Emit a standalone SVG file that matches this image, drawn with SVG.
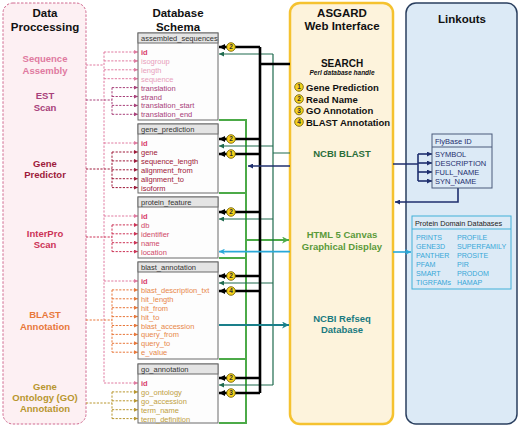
<svg xmlns="http://www.w3.org/2000/svg" width="520" height="427" viewBox="0 0 520 427">
<style>
text{font-family:"Liberation Sans",Arial,sans-serif}
.ttl{font-size:11.5px;font-weight:bold;fill:#111;text-anchor:middle}
.lbl{font-size:9.5px;font-weight:bold;text-anchor:middle}
.tbl rect.b{fill:#fdfdfd;stroke:#6a6a6a;stroke-width:1}
.tbl rect.h{fill:#e4e4e4;stroke:#6a6a6a;stroke-width:1}
.th{font-size:7.5px;fill:#333}
.f{font-size:7.5px}
.id{font-size:7.5px;font-weight:bold;fill:#d8406a}
.d{fill:none;stroke-width:1;stroke-dasharray:2.2,1.4}
.badge circle{fill:#f7d21e;stroke:#6b5a00;stroke-width:0.8}
.badge text{font-size:6.5px;font-weight:bold;fill:#333;text-anchor:middle}
.li{font-size:9.5px;font-weight:bold;fill:#111}
.lk{font-size:7.5px;fill:#1f2f6e}
.pd{font-size:7.1px;fill:#38a8d8}
</style>
<defs>
<marker id="mPink" viewBox="0 0 10 10" refX="10" refY="5" markerUnits="userSpaceOnUse" markerWidth="4" markerHeight="4" orient="auto"><path d="M0,0L10,5L0,10z" fill="#e07aa0"/></marker>
<marker id="mMauve" viewBox="0 0 10 10" refX="10" refY="5" markerUnits="userSpaceOnUse" markerWidth="4" markerHeight="4" orient="auto"><path d="M0,0L10,5L0,10z" fill="#a8407a"/></marker>
<marker id="mRed" viewBox="0 0 10 10" refX="10" refY="5" markerUnits="userSpaceOnUse" markerWidth="4" markerHeight="4" orient="auto"><path d="M0,0L10,5L0,10z" fill="#9e1a3a"/></marker>
<marker id="mCrim" viewBox="0 0 10 10" refX="10" refY="5" markerUnits="userSpaceOnUse" markerWidth="4" markerHeight="4" orient="auto"><path d="M0,0L10,5L0,10z" fill="#cc3356"/></marker>
<marker id="mOrange" viewBox="0 0 10 10" refX="10" refY="5" markerUnits="userSpaceOnUse" markerWidth="4" markerHeight="4" orient="auto"><path d="M0,0L10,5L0,10z" fill="#e8773a"/></marker>
<marker id="mOlive" viewBox="0 0 10 10" refX="10" refY="5" markerUnits="userSpaceOnUse" markerWidth="4" markerHeight="4" orient="auto"><path d="M0,0L10,5L0,10z" fill="#b8962e"/></marker>
<marker id="mBlack" viewBox="0 0 10 10" refX="10" refY="5" markerUnits="userSpaceOnUse" markerWidth="6" markerHeight="6" orient="auto"><path d="M0,0L10,5L0,10z" fill="#000"/></marker>
<marker id="mDG" viewBox="0 0 10 10" refX="10" refY="5" markerUnits="userSpaceOnUse" markerWidth="5" markerHeight="5" orient="auto"><path d="M0,0L10,5L0,10z" fill="#1f6b4f"/></marker>
<marker id="mLG" viewBox="0 0 10 10" refX="10" refY="5" markerUnits="userSpaceOnUse" markerWidth="7" markerHeight="7" orient="auto"><path d="M0,0L10,5L0,10L3,5z" fill="#4caa48"/></marker>
<marker id="mCyan" viewBox="0 0 10 10" refX="10" refY="5" markerUnits="userSpaceOnUse" markerWidth="6" markerHeight="6" orient="auto"><path d="M0,0L10,5L0,10L3,5z" fill="#29a8d8"/></marker>
<marker id="mTeal" viewBox="0 0 10 10" refX="10" refY="5" markerUnits="userSpaceOnUse" markerWidth="7" markerHeight="7" orient="auto"><path d="M0,0L10,5L0,10L3,5z" fill="#1a7f8a"/></marker>
<marker id="mNavy" viewBox="0 0 10 10" refX="10" refY="5" markerUnits="userSpaceOnUse" markerWidth="5" markerHeight="5" orient="auto"><path d="M0,0L10,5L0,10z" fill="#1f2f6e"/></marker>
</defs>

<!-- panels -->
<g id="data-processing">
<rect x="3" y="3" width="83" height="421" rx="10" fill="#fdf0f3" stroke="#d06a90" stroke-width="1" stroke-dasharray="2.5,1.5"/>
<text class="ttl" x="45" y="17">Data</text>
<text class="ttl" x="45" y="31">Proccessing</text>
</g>
<g id="proc-sequence-assembly"><text class="lbl" fill="#e07aa0"><tspan x="45" y="61.5">Sequence</tspan><tspan x="45" y="73.5">Assembly</tspan></text></g>
<g id="proc-est-scan"><text class="lbl" fill="#a8407a"><tspan x="45" y="99">EST</tspan><tspan x="45" y="111">Scan</tspan></text></g>
<g id="proc-gene-predictor"><text class="lbl" fill="#9e1a3a"><tspan x="45" y="167">Gene</tspan><tspan x="45" y="178">Predictor</tspan></text></g>
<g id="proc-interpro"><text class="lbl" fill="#cc3356"><tspan x="45" y="236.5">InterPro</tspan><tspan x="45" y="247.5">Scan</tspan></text></g>
<g id="proc-blast"><text class="lbl" fill="#e8773a"><tspan x="45" y="317.5">BLAST</tspan><tspan x="45" y="329.5">Annotation</tspan></text></g>
<g id="proc-go"><text class="lbl" fill="#b8962e"><tspan x="45" y="389.5">Gene</tspan><tspan x="45" y="400.5">Ontology (GO)</tspan><tspan x="45" y="411.5">Annotation</tspan></text></g>

<g id="schema-title"><text class="ttl" x="178" y="17">Database</text><text class="ttl" x="178" y="31">Schema</text></g>

<g id="asgard">
<rect x="290" y="3" width="103" height="421" rx="10" fill="#fdf3dc" stroke="#f5c230" stroke-width="2.5"/>
<text class="ttl" x="342" y="17">ASGARD</text>
<text class="ttl" x="342" y="30">Web Interface</text>
</g>

<g id="linkouts">
<rect x="406" y="3" width="111" height="421" rx="10" fill="#dceaf6" stroke="#2a3f5f" stroke-width="1.5"/>
<text class="ttl" x="462" y="23">Linkouts</text>
</g>

<!-- connectors -->
<g id="connectors">
<g class="d" stroke="#e07aa0">
<path d="M86,65H104M104,52V383"/>
<path d="M104,52H138" marker-end="url(#mPink)"/>
<path d="M104,60.9H138" marker-end="url(#mPink)"/>
<path d="M104,69.8H138" marker-end="url(#mPink)"/>
<path d="M104,78.7H138" marker-end="url(#mPink)"/>
<path d="M104,143H138" marker-end="url(#mPink)"/>
<path d="M104,216H138" marker-end="url(#mPink)"/>
<path d="M104,281H138" marker-end="url(#mPink)"/>
<path d="M104,383H138" marker-end="url(#mPink)"/>
</g>
<g class="d" stroke="#a8407a">
<path d="M86,100H112M112,87.6V114.3"/>
<path d="M112,87.6H138" marker-end="url(#mMauve)"/>
<path d="M112,96.5H138" marker-end="url(#mMauve)"/>
<path d="M112,105.4H138" marker-end="url(#mMauve)"/>
<path d="M112,114.3H138" marker-end="url(#mMauve)"/>
</g>
<g class="d" stroke="#9e1a3a">
<path d="M86,169H112M112,152V187.6"/>
<path d="M112,152H138" marker-end="url(#mRed)"/>
<path d="M112,160.9H138" marker-end="url(#mRed)"/>
<path d="M112,169.8H138" marker-end="url(#mRed)"/>
<path d="M112,178.7H138" marker-end="url(#mRed)"/>
<path d="M112,187.6H138" marker-end="url(#mRed)"/>
</g>
<g class="d" stroke="#cc3356">
<path d="M86,237H112M112,224.9V251.6"/>
<path d="M112,224.9H138" marker-end="url(#mCrim)"/>
<path d="M112,233.8H138" marker-end="url(#mCrim)"/>
<path d="M112,242.7H138" marker-end="url(#mCrim)"/>
<path d="M112,251.6H138" marker-end="url(#mCrim)"/>
</g>
<g class="d" stroke="#e8773a">
<path d="M86,320H112M112,289.9V352.2"/>
<path d="M112,289.9H138" marker-end="url(#mOrange)"/>
<path d="M112,298.8H138" marker-end="url(#mOrange)"/>
<path d="M112,307.7H138" marker-end="url(#mOrange)"/>
<path d="M112,316.6H138" marker-end="url(#mOrange)"/>
<path d="M112,325.5H138" marker-end="url(#mOrange)"/>
<path d="M112,334.4H138" marker-end="url(#mOrange)"/>
<path d="M112,343.3H138" marker-end="url(#mOrange)"/>
<path d="M112,352.2H138" marker-end="url(#mOrange)"/>
</g>
<g class="d" stroke="#b8962e">
<path d="M86,403H112M112,391.9V418.6"/>
<path d="M112,391.9H138" marker-end="url(#mOlive)"/>
<path d="M112,400.8H138" marker-end="url(#mOlive)"/>
<path d="M112,409.7H138" marker-end="url(#mOlive)"/>
<path d="M112,418.6H138" marker-end="url(#mOlive)"/>
</g>
<g fill="none" stroke="#4caa48" stroke-width="2">
<path d="M219,120H246V423H219"/>
<path d="M219,193H246M219,258H246M219,359H246"/>
<path d="M246,240H289" marker-end="url(#mLG)"/>
</g>
<g fill="none" stroke="#1f6b4f" stroke-width="1.2">
<path d="M290,153H273M273,54V385"/>
<path d="M273,54H219" marker-end="url(#mDG)"/>
<path d="M273,146H219" marker-end="url(#mDG)"/>
<path d="M273,219H219" marker-end="url(#mDG)"/>
<path d="M273,283H219" marker-end="url(#mDG)"/>
<path d="M273,385H219" marker-end="url(#mDG)"/>
</g>
<g fill="none" stroke="#000" stroke-width="2.6">
<path d="M290,64H260M260,47V393"/>
<path d="M260,47H219" marker-end="url(#mBlack)"/>
<path d="M260,139H219" marker-end="url(#mBlack)"/>
<path d="M260,154H219" marker-end="url(#mBlack)"/>
<path d="M260,212H219" marker-end="url(#mBlack)"/>
<path d="M260,276H219" marker-end="url(#mBlack)"/>
<path d="M260,291H219" marker-end="url(#mBlack)"/>
<path d="M260,378H219" marker-end="url(#mBlack)"/>
<path d="M260,393H219" marker-end="url(#mBlack)"/>
</g>
<g fill="none" stroke="#1f2f6e" stroke-width="1.6">
<path d="M290,166H248" marker-end="url(#mNavy)"/>
<path d="M393,164H418M418,154V181"/>
<path d="M418,154H432" marker-end="url(#mNavy)"/>
<path d="M418,163H432" marker-end="url(#mNavy)"/>
<path d="M418,172H432" marker-end="url(#mNavy)"/>
<path d="M418,181H432" marker-end="url(#mNavy)"/>
<path d="M458,188V202H395" marker-end="url(#mNavy)"/>
</g>
<g fill="none" stroke="#29a8d8" stroke-width="1.6">
<path d="M290,251.6H219" marker-end="url(#mCyan)"/>
<path d="M393,252H411" marker-end="url(#mCyan)"/>
</g>
<path d="M219,325H289" fill="none" stroke="#1a7f8a" stroke-width="1.8" marker-end="url(#mTeal)"/>
</g>

<!-- tables -->
<g id="assembled_sequences" class="tbl">
<rect class="b" x="138" y="33" width="80" height="87"/>
<rect class="h" x="138" y="33" width="80" height="10"/>
<text class="th" x="141" y="41">assembled_sequences</text>
<text class="id" x="141" y="55">id</text>
<text class="f" fill="#e8a0bc" x="141" y="63.9">isogroup</text>
<text class="f" fill="#e8a0bc" x="141" y="72.8">length</text>
<text class="f" fill="#e8a0bc" x="141" y="81.7">sequence</text>
<text class="f" fill="#a8407a" x="141" y="90.6">translation</text>
<text class="f" fill="#a8407a" x="141" y="99.5">strand</text>
<text class="f" fill="#a8407a" x="141" y="108.4">translation_start</text>
<text class="f" fill="#a8407a" x="141" y="117.3">translation_end</text>
</g>
<g id="gene_prediction" class="tbl">
<rect class="b" x="138" y="124" width="80" height="69"/>
<rect class="h" x="138" y="124" width="80" height="10"/>
<text class="th" x="141" y="132">gene_prediction</text>
<text class="id" x="141" y="146">id</text>
<text class="f" fill="#a01838" x="141" y="155">gene</text>
<text class="f" fill="#a01838" x="141" y="163.9">sequence_length</text>
<text class="f" fill="#a01838" x="141" y="172.8">alignment_from</text>
<text class="f" fill="#a01838" x="141" y="181.7">alignment_to</text>
<text class="f" fill="#a01838" x="141" y="190.6">isoform</text>
</g>
<g id="protein_feature" class="tbl">
<rect class="b" x="138" y="197" width="80" height="61"/>
<rect class="h" x="138" y="197" width="80" height="10"/>
<text class="th" x="141" y="205">protein_feature</text>
<text class="id" x="141" y="219">id</text>
<text class="f" fill="#d04868" x="141" y="227.9">db</text>
<text class="f" fill="#d04868" x="141" y="236.8">identifier</text>
<text class="f" fill="#d04868" x="141" y="245.7">name</text>
<text class="f" fill="#d04868" x="141" y="254.6">location</text>
</g>
<g id="blast_annotation" class="tbl">
<rect class="b" x="138" y="262" width="80" height="97"/>
<rect class="h" x="138" y="262" width="80" height="10"/>
<text class="th" x="141" y="270">blast_annotation</text>
<text class="id" x="141" y="284">id</text>
<text class="f" fill="#e8884a" x="141" y="292.9">blast_description_txt</text>
<text class="f" fill="#e8884a" x="141" y="301.8">hit_length</text>
<text class="f" fill="#e8884a" x="141" y="310.7">hit_from</text>
<text class="f" fill="#e8884a" x="141" y="319.6">hit_to</text>
<text class="f" fill="#e8884a" x="141" y="328.5">blast_accession</text>
<text class="f" fill="#e8884a" x="141" y="337.4">query_from</text>
<text class="f" fill="#e8884a" x="141" y="346.3">query_to</text>
<text class="f" fill="#e8884a" x="141" y="355.2">e_value</text>
</g>
<g id="go_annotation" class="tbl">
<rect class="b" x="138" y="364" width="80" height="59"/>
<rect class="h" x="138" y="364" width="80" height="10"/>
<text class="th" x="141" y="372">go_annotation</text>
<text class="id" x="141" y="386">id</text>
<text class="f" fill="#c0a040" x="141" y="394.9">go_ontology</text>
<text class="f" fill="#c0a040" x="141" y="403.8">go_accession</text>
<text class="f" fill="#c0a040" x="141" y="412.7">term_name</text>
<text class="f" fill="#c0a040" x="141" y="421.6">term_definition</text>
</g>

<g id="badges" class="badge">
<circle cx="231" cy="47" r="4.3"/><text x="231" y="49.3">2</text>
<circle cx="231" cy="139" r="4.3"/><text x="231" y="141.3">2</text>
<circle cx="231" cy="154" r="4.3"/><text x="231" y="156.3">1</text>
<circle cx="231" cy="212" r="4.3"/><text x="231" y="214.3">2</text>
<circle cx="231" cy="276" r="4.3"/><text x="231" y="278.3">2</text>
<circle cx="231" cy="291" r="4.3"/><text x="231" y="293.3">4</text>
<circle cx="231" cy="378" r="4.3"/><text x="231" y="380.3">2</text>
<circle cx="231" cy="393" r="4.3"/><text x="231" y="395.3">3</text>
</g>

<g id="search">
<text x="342" y="67" font-size="10" font-weight="bold" fill="#111" text-anchor="middle">SEARCH</text>
<text x="342" y="75" font-size="6.5" font-weight="bold" font-style="italic" fill="#111" text-anchor="middle">Perl database handle</text>
<g class="badge">
<circle cx="299" cy="87" r="4.3"/><text x="299" y="89.3">1</text>
<circle cx="299" cy="99" r="4.3"/><text x="299" y="101.3">2</text>
<circle cx="299" cy="110.5" r="4.3"/><text x="299" y="112.8">3</text>
<circle cx="299" cy="122" r="4.3"/><text x="299" y="124.3">4</text>
</g>
<text class="li" x="306" y="90.5">Gene Prediction</text>
<text class="li" x="306" y="102.5">Read Name</text>
<text class="li" x="306" y="114">GO Annotation</text>
<text class="li" x="306" y="125.5">BLAST Annotation</text>
</g>
<g id="ncbi-blast"><text x="342" y="157" font-size="9.5" font-weight="bold" fill="#2a6e3a" text-anchor="middle">NCBI BLAST</text></g>
<g id="html5-canvas"><text font-size="9.5" font-weight="bold" fill="#5a9a3a" text-anchor="middle"><tspan x="342" y="238">HTML 5 Canvas</tspan><tspan x="342" y="249.5">Graphical Display</tspan></text></g>
<g id="ncbi-refseq"><text font-size="9.5" font-weight="bold" fill="#1a7a80" text-anchor="middle"><tspan x="342" y="322">NCBI Refseq</tspan><tspan x="342" y="333">Database</tspan></text></g>

<g id="flybase">
<rect x="432" y="134" width="60" height="54" fill="#dceaf6" stroke="#4a5a7a" stroke-width="1"/>
<line x1="432" y1="147" x2="492" y2="147" stroke="#4a5a7a" stroke-width="1"/>
<text class="lk" x="435" y="144">FlyBase ID</text>
<text class="lk" x="435" y="156.5">SYMBOL</text>
<text class="lk" x="435" y="165.5">DESCRIPTION</text>
<text class="lk" x="435" y="174.5">FULL_NAME</text>
<text class="lk" x="435" y="183.5">SYN_NAME</text>
</g>
<g id="protein-domain-databases">
<rect x="412" y="216" width="99" height="73" fill="#dceaf6" stroke="#40b0d8" stroke-width="1"/>
<line x1="412" y1="229" x2="511" y2="229" stroke="#40b0d8" stroke-width="1"/>
<text x="415" y="226" font-size="7.3" fill="#222">Protein Domain Databases</text>
<text class="pd" x="416" y="239.5">PRINTS</text><text class="pd" x="457" y="239.5">PROFILE</text>
<text class="pd" x="416" y="248.5">GENE3D</text><text class="pd" x="457" y="248.5">SUPERFAMILY</text>
<text class="pd" x="416" y="257.5">PANTHER</text><text class="pd" x="457" y="257.5">PROSITE</text>
<text class="pd" x="416" y="266.5">PFAM</text><text class="pd" x="457" y="266.5">PIR</text>
<text class="pd" x="416" y="275.5">SMART</text><text class="pd" x="457" y="275.5">PRODOM</text>
<text class="pd" x="416" y="284.5">TIGRFAMs</text><text class="pd" x="457" y="284.5">HAMAP</text>
</g>
</svg>
